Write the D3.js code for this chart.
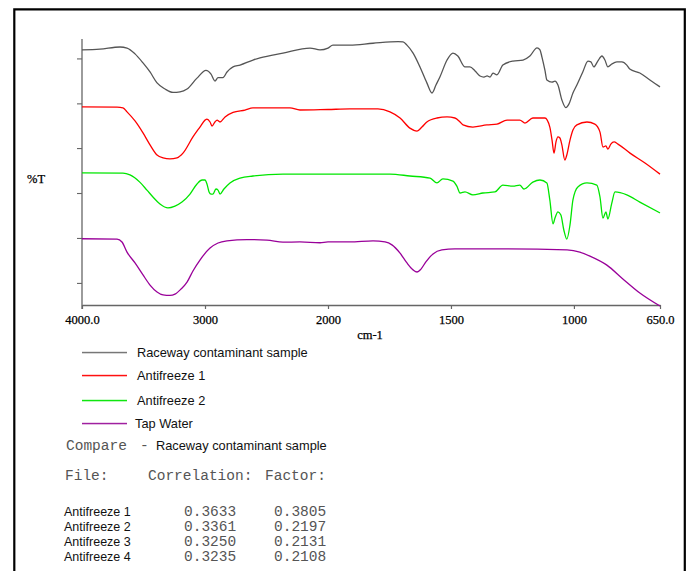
<!DOCTYPE html>
<html>
<head>
<meta charset="utf-8">
<script src="https://cdn.jsdelivr.net/npm/d3@7"></script>
<style>
html,body{margin:0;padding:0;background:#fff;}
svg{display:block;}
</style>
</head>
<body>
<svg id="chart" width="691" height="571"></svg>
<script>
// ---- data ----
const seriesNames = ["Raceway contaminant sample", "Antifreeze 1", "Antifreeze 2", "Tap Water"];
const seriesColors = ["#555555", "#ff0000", "#00e600", "#990099"];
const legendColors = ["#777777", "#ff1010", "#10e610", "#a020a0"];

// [wavenumber cm-1, %T]
const raceway = [
 [4000,95.9],[3854,96.2],[3691,97.0],[3634,96.6],[3569,94.4],[3504,91.0],[3447,87.6],[3390,83.5],
 [3325,81.2],[3260,79.9],[3203,80.1],[3146,81.2],[3065,85.3],[2992,88.2],[2951,86.8],[2919,84.2],
 [2894,85.5],[2854,85.5],[2821,87.6],[2772,89.5],[2715,90.2],[2610,92.1],[2553,92.9],[2366,94.7],
 [2146,96.6],[2065,95.9],[2000,96.6],[1980,97.7],[1911,97.7],[1817,98.4],[1715,99.0],[1695,98.9],
 [1679,97.7],[1654,94.7],[1626,89.5],[1598,83.5],[1577,79.7],[1561,82.7],[1545,85.7],[1516,92.1],
 [1492,94.7],[1472,93.6],[1443,89.5],[1423,89.5],[1402,88.0],[1382,86.1],[1366,85.7],[1353,86.1],
 [1341,85.7],[1329,87.2],[1313,86.5],[1289,90.2],[1248,91.7],[1207,92.1],[1179,93.6],[1150,96.7],
 [1138,95.9],[1130,93.2],[1118,88.3],[1110,84.6],[1089,83.8],[1077,84.2],[1065,82.7],[1049,77.1],
 [1033,74.2],[1020,75.6],[1004,79.7],[988,82.7],[964,87.6],[943,91.7],[931,91.4],[919,89.5],
 [903,91.7],[886,93.6],[874,92.1],[862,89.5],[846,90.6],[825,91.4],[805,91.4],[785,90.2],
 [773,88.7],[732,87.2],[691,84.6],[650,82.0]
];
const antifreeze1 = [
 [4000,74.5],[3715,74.4],[3667,74.1],[3634,72.6],[3569,69.2],[3504,64.7],[3447,60.2],[3390,56.4],
 [3341,55.3],[3285,54.9],[3228,55.3],[3179,57.1],[3098,63.2],[3041,66.9],[3000,69.5],[2984,69.9],
 [2959,68.8],[2943,67.3],[2919,68.8],[2902,69.5],[2878,68.8],[2837,70.7],[2772,72.4],[2675,73.3],
 [2610,74.1],[2309,74.1],[2228,73.3],[2000,73.5],[1911,73.7],[1797,73.7],[1748,72.6],[1707,70.3],
 [1667,66.5],[1638,65.4],[1618,66.9],[1598,68.8],[1557,70.3],[1516,70.7],[1484,70.3],[1463,68.8],
 [1451,67.7],[1411,66.9],[1354,67.7],[1313,68.0],[1272,69.5],[1220,69.5],[1199,68.4],[1167,70.3],
 [1118,70.3],[1098,66.9],[1089,62.0],[1081,57.1],[1073,61.3],[1065,63.2],[1057,62.8],[1049,60.2],
 [1037,54.5],[1029,56.4],[1016,62.0],[1004,65.8],[988,67.7],[947,68.8],[915,68.0],[894,65.0],
 [882,59.4],[870,59.8],[862,58.6],[850,60.5],[837,61.3],[821,60.5],[772,57.1],[711,53.4],[650,49.2]
];
const antifreeze2 = [
 [4000,49.7],[3667,49.6],[3610,48.9],[3528,46.1],[3472,43.2],[3423,40.6],[3366,38.0],[3301,36.5],
 [3244,37.2],[3187,38.7],[3122,41.7],[3065,45.5],[3024,47.0],[3000,47.0],[2984,45.5],[2967,42.5],
 [2951,41.7],[2935,41.7],[2911,43.6],[2894,43.2],[2878,41.7],[2846,43.6],[2797,45.9],[2715,47.7],
 [2610,48.5],[2366,49.2],[2000,49.2],[1748,49.2],[1667,48.5],[1585,47.7],[1557,45.9],[1533,47.4],
 [1492,46.6],[1476,44.7],[1463,42.1],[1443,42.5],[1411,41.4],[1370,42.1],[1321,42.5],[1289,45.1],
 [1248,44.7],[1220,45.1],[1203,43.6],[1167,46.2],[1138,47.0],[1110,45.9],[1098,39.5],[1085,30.5],
 [1077,32.7],[1065,35.0],[1053,33.8],[1041,28.2],[1029,24.8],[1016,30.1],[1004,39.5],[984,44.4],
 [947,45.9],[907,45.1],[894,40.6],[882,32.7],[870,35.0],[862,32.3],[846,38.3],[833,42.5],
 [785,41.4],[732,38.7],[650,34.6]
];
const tapWater = [
 [4000,24.9],[3715,24.8],[3675,23.7],[3634,19.9],[3569,15.8],[3504,11.3],[3447,7.5],[3390,4.9],
 [3341,3.8],[3285,3.6],[3244,4.1],[3195,6.0],[3146,8.6],[3098,12.8],[3041,16.9],[2959,21.4],
 [2894,23.3],[2821,24.1],[2659,24.6],[2496,24.4],[2366,23.6],[2228,23.7],[2065,23.4],[2000,23.7],
 [1911,23.7],[1817,24.1],[1768,23.7],[1740,22.6],[1707,19.5],[1679,15.8],[1654,13.2],[1638,12.4],
 [1622,13.5],[1602,16.2],[1573,19.2],[1537,20.7],[1484,21.1],[1272,21.1],[1028,20.7],[976,19.9],
 [935,18.4],[866,15.0],[801,9.8],[732,4.5],[650,-0.4]
];
const seriesData = [raceway, antifreeze1, antifreeze2, tapWater];

const xTickValues = [4000, 3000, 2000, 1500, 1000, 650];
const xTickLabels = ["4000.0", "3000", "2000", "1500", "1000", "650.0"];
const yTickValues = [8.3, 25.2, 42.1, 59.0, 75.8, 92.7];

const tableFiles = ["Antifreeze 1", "Antifreeze 2", "Antifreeze 3", "Antifreeze 4"];
const tableCorrelation = ["0.3633", "0.3361", "0.3250", "0.3235"];
const tableFactor = ["0.3805", "0.2197", "0.2131", "0.2108"];

// ---- drawing ----
const svg = d3.select("#chart");

// frame
svg.append("path")
  .attr("d", "M14.3,571 L14.3,9.3 L684.8,9.3 L684.8,571")
  .attr("fill", "none").attr("stroke", "#000").attr("stroke-width", 2.2);

// piecewise x scale (expanded below 2000 cm-1)
const x = d3.scaleLinear().domain([4000, 2000, 650]).range([82, 328, 660]);
const y = d3.scaleLinear().domain([0, 100]).range([305, 39]);

const axisColor = "#666";
// x axis
const xAxis = d3.axisBottom(x).tickValues(xTickValues)
  .tickFormat((d, i) => xTickLabels[i]).tickSizeOuter(0).tickSizeInner(4).tickPadding(6);
const gx = svg.append("g").attr("transform", "translate(0,305)").call(xAxis);
gx.select(".domain").attr("stroke", axisColor).attr("stroke-width", 1.3);
gx.selectAll(".tick line").attr("stroke", axisColor).attr("stroke-width", 1.2);
gx.selectAll(".tick text").attr("fill", "#000").attr("font-family", "Liberation Serif, serif")
  .attr("font-size", 12.5).attr("stroke", "#000").attr("stroke-width", 0.25);

// y axis
const yAxis = d3.axisLeft(y).tickValues(yTickValues).tickFormat("").tickSizeOuter(0).tickSizeInner(5);
const gy = svg.append("g").attr("transform", "translate(82,0)").call(yAxis);
gy.select(".domain").attr("stroke", axisColor).attr("stroke-width", 1.3)
  .attr("d", "M0," + (y(100)) + "V" + (y(0) + 4));
gy.selectAll(".tick line").attr("stroke", axisColor).attr("stroke-width", 1.1);

svg.append("text").attr("x", 27).attr("y", 183).text("%T")
  .attr("font-family", "Liberation Serif, serif").attr("font-size", 12.5).attr("fill", "#000")
  .attr("stroke", "#000").attr("stroke-width", 0.25);
svg.append("text").attr("x", 370).attr("y", 339).attr("text-anchor", "middle").text("cm-1")
  .attr("font-family", "Liberation Serif, serif").attr("font-size", 12.5).attr("fill", "#000")
  .attr("stroke", "#000").attr("stroke-width", 0.25);

// spectra
const line = d3.line().x(d => x(d[0])).y(d => y(d[1])).curve(d3.curveMonotoneX);
svg.append("g").selectAll("path").data(seriesData).join("path")
  .attr("d", line).attr("fill", "none")
  .attr("stroke", (d, i) => seriesColors[i]).attr("stroke-width", 1.3)
  .attr("stroke-linejoin", "round");

// legend
const legendY = [352, 375, 400, 423];
const lg = svg.append("g").attr("class", "legend");
lg.selectAll("rect").data(seriesNames).join("rect")
  .attr("x", 82).attr("width", 45)
  .attr("y", (d, i) => legendY[i] - 0.2).attr("height", 1.5)
  .attr("fill", (d, i) => legendColors[i]);
lg.selectAll("text").data(seriesNames).join("text")
  .attr("x", (d, i) => i === 3 ? 135 : 137).attr("y", (d, i) => legendY[i] + 4.5).text(d => d)
  .attr("font-family", "Liberation Sans, Arial, sans-serif").attr("font-size", 12.8).attr("fill", "#111");

// compare line
const mono = "Liberation Mono, Courier New, monospace";
svg.append("text").attr("x", 66).attr("y", 450).text("Compare")
  .attr("font-family", mono).attr("font-size", 14.5).attr("fill", "#555");
svg.append("text").attr("x", 140).attr("y", 450).text("-")
  .attr("font-family", mono).attr("font-size", 14.5).attr("fill", "#555");
svg.append("text").attr("x", 156).attr("y", 450).text("Raceway contaminant sample")
  .attr("font-family", "Liberation Sans, Arial, sans-serif").attr("font-size", 12.8).attr("fill", "#111");

// table header
[["File:", 65], ["Correlation:", 148], ["Factor:", 265]].forEach(h => {
  svg.append("text").attr("x", h[1]).attr("y", 480).text(h[0])
    .attr("font-family", mono).attr("font-size", 14.5).attr("fill", "#555");
});
const rowY = [515.5, 530.5, 545.5, 561];
tableFiles.forEach((f, i) => {
  svg.append("text").attr("x", 64).attr("y", rowY[i]).text(f)
    .attr("font-family", "Liberation Sans, Arial, sans-serif").attr("font-size", 12.5).attr("fill", "#111");
  svg.append("text").attr("x", 184).attr("y", rowY[i]).text(tableCorrelation[i])
    .attr("font-family", mono).attr("font-size", 14.5).attr("fill", "#555");
  svg.append("text").attr("x", 274).attr("y", rowY[i]).text(tableFactor[i])
    .attr("font-family", mono).attr("font-size", 14.5).attr("fill", "#555");
});
</script>
</body>
</html>
